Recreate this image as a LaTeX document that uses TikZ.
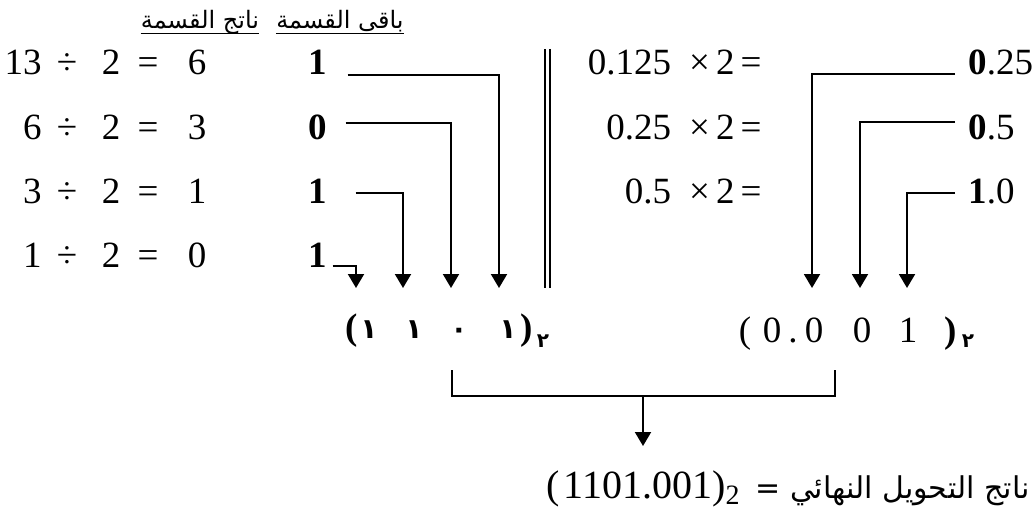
\documentclass[tikz,border=0pt]{standalone}
\usepackage{fontspec}
\setmainfont{Liberation Serif}
\newfontfamily\numfont{Liberation Serif}
\newfontfamily\arabicfont[Script=Arabic]{DejaVu Sans}
\TeXXeTstate=1
\usetikzlibrary{arrows.meta,positioning,calc}

\begin{document}
\begin{tikzpicture}[x=0.5pt, y=-0.5pt,
    num/.style={font=\numfont\fontsize{18.5}{20}\selectfont, inner sep=0pt, anchor=base},
    rem/.style={font=\numfont\fontsize{18.5}{20}\selectfont\bfseries, inner sep=0pt, anchor=base},
    head/.style={font=\arabicfont\fontsize{12}{14}\selectfont, inner sep=0pt, anchor=base},
    adig/.style={font=\arabicfont\fontsize{14}{16}\selectfont\bfseries, inner sep=0pt, anchor=base},
    asub/.style={font=\arabicfont\fontsize{10}{12}\selectfont\bfseries, inner sep=0pt, anchor=base},
    conn/.style={line width=1pt},
    arr/.style={line width=1pt, -{Triangle[width=8pt,length=7pt]}}]
    \useasboundingbox (0,0) rectangle (1036,508);

    % Headers
    \node[head] (hq) at (200,29) {\beginR ناتج القسمة\endR};
    \node[head] (hr) at (340,29) {\beginR باقى القسمة\endR};
    \draw[line width=0.6pt] ($(hq.base west)+(0,4.5)$) -- ($(hq.base east)+(0,4.5)$);
    \draw[line width=0.6pt] ($(hr.base west)+(0,4.5)$) -- ($(hr.base east)+(0,4.5)$);

    % Division rows
    \foreach \n/\q/\r/\y [count=\i] in {13/6/1/75, 6/3/0/139, 3/1/1/203, 1/0/1/267} {
        \node[num, anchor=base east] (n\i) at (42,\y) {\n};
        \node[num] (dv\i) at (67,\y) {÷};
        \node[num] (two\i) at (111,\y) {2};
        \node[num] (eq\i) at (148,\y) {=};
        \node[num] (q\i) at (197,\y) {\q};
        \node[rem] (r\i) at (318,\y) {\r};
    }

    % Multiplication rows
    \foreach \m/\y/\lead/\tail [count=\i] in {0.125/75/0/.25, 0.25/139/0/.5, 0.5/203/1/.0} {
        \node[num, anchor=base east] (m\i) at (762,\y) {\m\hspace{9pt}×\,2\,=};
        \node[num, anchor=base west] (p\i) at (968,\y) {\textbf{\lead}\tail};
    }

    % Arrow tips
    \coordinate (t1) at (356,288);
    \coordinate (t2) at (403,288);
    \coordinate (t3) at (451,288);
    \coordinate (t4) at (499,288);
    \coordinate (t5) at (812,288);
    \coordinate (t6) at (860,288);
    \coordinate (t7) at (907,288);

    % Connectors
    \draw[arr] ($(r1.base east)+(20,0)$) -| (t4);
    \draw[arr] ($(r2.base east)+(18,-16)$) -| (t3);
    \draw[arr] ($(r3.base east)+(28,-10)$) -| (t2);
    \draw[arr] ($(r4.base east)+(5,-1)$) -| (t1);
    \draw[arr] ($(p1.base west)+(-13,-1)$) -| (t5);
    \draw[arr] ($(p2.base west)+(-13,-17)$) -| (t6);
    \draw[arr] ($(p3.base west)+(-13,-10)$) -| (t7);

    % Separator
    \coordinate (sa) at (547.5,49);
    \coordinate (sb) at (547.5,288);
    \draw[line width=0.75pt, double, double distance=1.75pt] (sa) -- (sb);

    % Integer part
    \node[rem] (lp) at (352,339) {(};
    \node[adig] (b1) at (369,338) {١};
    \node[adig] (b2) at (414,338) {١};
    \node[adig] (b3) at (459,338) {٠};
    \node[adig] (b4) at (508,338) {١};
    \node[rem] (rp) at (527,339) {)};
    \node[asub] (bs) at (543,347) {٢};

    % Fraction part
    \node[num] (flp) at (745,342) {(};
    \node[num] (f0) at (772,342) {0};
    \node[num] (fdot) at (793,342) {.};
    \node[num] (f1) at (814,342) {0};
    \node[num] (f2) at (862,342) {0};
    \node[num] (f3) at (908,342) {1};
    \node[rem] (frp) at (951,342) {)};
    \node[asub] (fs) at (968,347) {٢};

    % Join
    \coordinate (bl) at (452,370);
    \coordinate (br) at (835,370);
    \coordinate (bm) at (643,396);
    \coordinate (bt) at (643,446);
    \draw[conn] (bl) |- (br |- bm) -- (br);
    \draw[arr] (bm) -- (bt);

    % Result
    \node[num, anchor=base west, font=\numfont\fontsize{20}{22}\selectfont] (res) at (546,498) {(\hspace{2pt}1101.001)\textsubscript{2}};
    \node[anchor=base east, inner sep=0pt, font=\arabicfont\fontsize{15}{18}\selectfont] (resl) at (1030,498) {\beginR ناتج التحويل النهائي =\endR};
\end{tikzpicture}
\end{document}
